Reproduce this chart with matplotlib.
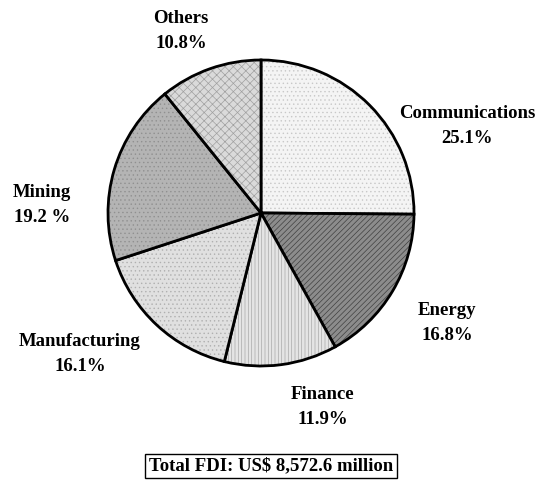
import matplotlib.pyplot as plt

# Dati del grafico
settori = ['Communications', 'Energy', 'Finance', 'Manufacturing', 'Mining', 'Others']
quote = [25.1, 16.8, 11.9, 16.1, 19.2, 10.8]
etichette = ['Communications\n25.1%', 'Energy\n16.8%', 'Finance\n11.9%',
             'Manufacturing\n16.1%', 'Mining\n19.2 %', 'Others\n10.8%']
totale = 'Total FDI: US$ 8,572.6 million'

colori = ['#f4f4f4', '#8c8c8c', '#e4e4e4', '#e0e0e0', '#b4b4b4', '#dadada']
tratteggi = ['....', '//////', '|||||', '....', '....', 'xxxx']
hatch_col = ['#c8c8c8', '#404040', '#a8a8a8', '#b0b0b0', '#909090', '#a0a0a0']

plt.rcParams['font.family'] = ['Liberation Serif', 'DejaVu Serif']
plt.rcParams['hatch.linewidth'] = 0.5

fig = plt.figure(figsize=(5.39, 4.83), dpi=100)
cx, cy, r = 261, 213, 153
ax = fig.add_axes([(cx - r) / 539, 1 - (cy + r) / 483, 2 * r / 539, 2 * r / 483])

wedges, _ = ax.pie(quote, startangle=90, counterclock=False, colors=colori,
                   wedgeprops=dict(edgecolor='black', linewidth=2))
for w, h, hc in zip(wedges, tratteggi, hatch_col):
    w.set_hatch(h)
    w._hatch_color = plt.matplotlib.colors.to_rgba(hc)

ax.set_xlim(-1, 1)
ax.set_ylim(-1, 1)
ax.set_aspect('equal')
ax.axis('off')

# posizioni delle etichette (pixel)
pos = [(467, 126), (447, 323), (323, 407), (80, 354), (42, 205), (181, 31)]
for (px, py), t in zip(pos, etichette):
    fig.text(px / 539, 1 - py / 483, t, ha='center', va='center',
             fontsize=13.5, fontweight='bold', linespacing=1.55)

fig.text(271 / 539, 1 - 466 / 483, totale, ha='center', va='center',
         fontsize=13.5, fontweight='bold',
         bbox=dict(boxstyle='square,pad=0.2', facecolor='white',
                   edgecolor='black', linewidth=1))

fig.savefig('out.png', dpi=100)
